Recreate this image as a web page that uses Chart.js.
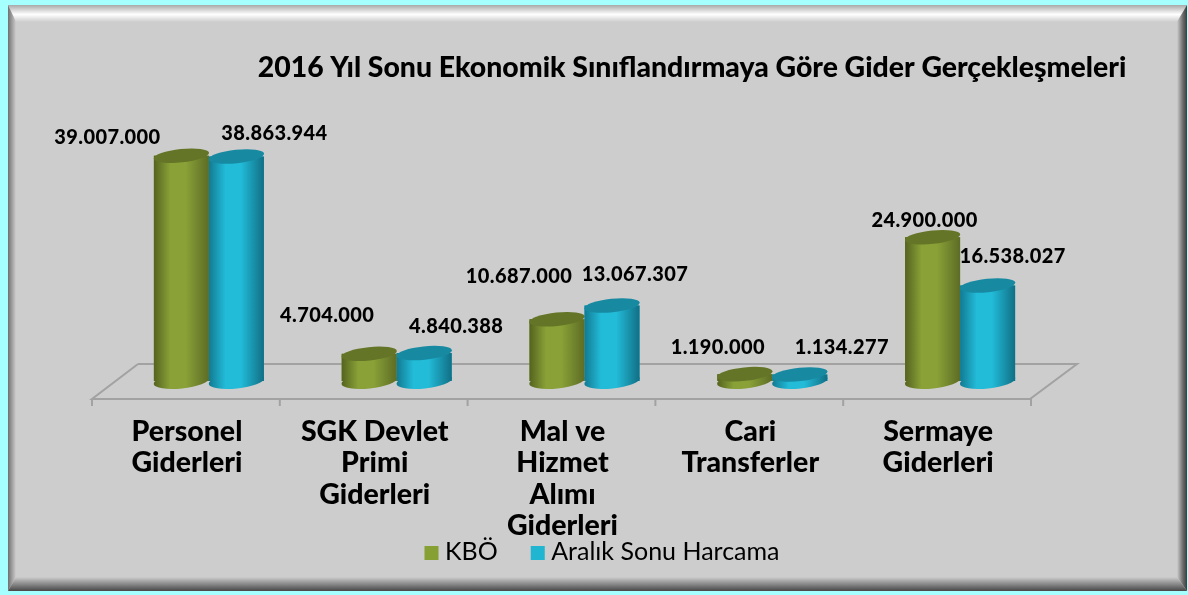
<!DOCTYPE html>
<html><head><meta charset="utf-8">
<style>html,body{margin:0;padding:0;background:#a6ffff}#w{width:1188px;height:595px}canvas{display:block}</style>
<script src="https://cdn.jsdelivr.net/npm/chart.js@4"></script>
</head><body><div id="w"><canvas id="c" width="1188" height="595"></canvas></div>
<script>
const categories = [['Personel','Giderleri'],['SGK Devlet','Primi','Giderleri'],['Mal ve','Hizmet','Alımı','Giderleri'],['Cari','Transferler'],['Sermaye','Giderleri']];
const kbo = [39007000, 4704000, 10687000, 1190000, 24900000];
const harcama = [38863944, 4840388, 13067307, 1134277, 16538027];
const seriesNames = ['KBÖ', 'Aralık Sonu Harcama'];
const titleText = '2016 Yıl Sonu Ekonomik Sınıflandırmaya Göre Gider Gerçekleşmeleri';
const labelDx = [[-74,-42,-38,-27,-8],[38,32,23,42,25]];
const labelDy = [[-18,-38,-43,-27,-17],[-23,-26,-31,-27,-29]];
const FONT = 'Lato';
const fmt = v => String(v).replace(/\B(?=(\d{3})+$)/g,'.');
const palette = [
 {edgeL:'#55631f',mid:'#89a137',edgeR:'#5d6c25',top:'#647527',key:'#86a034'},
 {edgeL:'#127a92',mid:'#22bbd8',edgeR:'#116f85',top:'#178aa2',key:'#20b5d0'}
];
const LEGEND_GAP = 33;
function barGradient(ctx,x0,x1,p){
  const g=ctx.createLinearGradient(x0,0,x1,0);
  g.addColorStop(0,p.edgeL);g.addColorStop(.3,p.mid);g.addColorStop(.58,p.mid);g.addColorStop(1,p.edgeR);
  return g;
}
const frame = {id:'frame',beforeDraw(chart){
  const c=chart.ctx,W=1188,H=595,L=8,T=5,R=1187,B=591,b=[8,17,10,14];
  c.save();
  c.fillStyle='#a6ffff';c.fillRect(0,0,W,H);
  c.fillStyle='#cdcdcd';c.fillRect(L,T,R-L,B-T);
  const trap=(pts,g)=>{c.beginPath();pts.forEach((p,i)=>i?c.lineTo(p[0],p[1]):c.moveTo(p[0],p[1]));c.closePath();c.fillStyle=g;c.fill();};
  let g=c.createLinearGradient(0,T,0,T+b[1]);
  g.addColorStop(0,'#a8a8a8');g.addColorStop(.55,'#ffffff');g.addColorStop(1,'#cdcdcd');
  trap([[L,T],[R,T],[R-b[2],T+b[1]],[L+b[0],T+b[1]]],g);
  g=c.createLinearGradient(L,0,L+b[0],0);
  g.addColorStop(0,'#707070');g.addColorStop(1,'#cdcdcd');
  trap([[L,T],[L+b[0],T+b[1]],[L+b[0],B-b[3]],[L,B]],g);
  g=c.createLinearGradient(R,0,R-b[2],0);
  g.addColorStop(0,'#3c3c3c');g.addColorStop(.4,'#6a6a6a');g.addColorStop(1,'#cdcdcd');
  trap([[R,T],[R-b[2],T+b[1]],[R-b[2],B-b[3]],[R,B]],g);
  g=c.createLinearGradient(0,B,0,B-b[3]);
  g.addColorStop(0,'#484848');g.addColorStop(.3,'#707070');g.addColorStop(1,'#cdcdcd');
  trap([[L,B],[L+b[0],B-b[3]],[R-b[2],B-b[3]],[R,B]],g);
  c.restore();
}};
const floor = {id:'floor',afterLayout(chart){
  const t=chart.titleBlock,l=chart.legend;
  const dt=692-(t.left+t.right)/2; t.left+=dt;t.right+=dt;
  const dl=602-(l.left+l.right)/2; l.left+=dl;l.right+=dl;
  const dy=-35; l.top+=dy;l.bottom+=dy;
  l.legendHitBoxes.forEach(h=>{h.left+=dl;h.top+=dy;});
},beforeDatasetsDraw(chart){
  const c=chart.ctx,x=chart.scales.x,y=chart.scales.y,base=y.getPixelForValue(0);
  const a=chart.chartArea,fy=base+18,by=base-17;
  c.save();c.strokeStyle='#a2a2a2';c.lineWidth=2;
  c.beginPath();c.moveTo(a.left+23,by);c.lineTo(a.right+23,by);c.lineTo(a.right-24,fy);c.lineTo(a.left-23,fy);c.lineTo(a.left+23,by);c.stroke();
  const step=(a.right-a.left)/categories.length;
  c.beginPath();
  for(let i=0;i<=categories.length;i++){const px=a.left-23+step*i;c.moveTo(px,fy);c.lineTo(px,fy+7);}
  c.stroke();c.restore();
},afterDatasetsDraw(chart){
  const c=chart.ctx;
  chart.data.datasets.forEach((d,s)=>{
    const p=palette[s];
    chart.getDatasetMeta(s).data.forEach(bar=>{
      const hw=bar.width/2,tilt=-6*Math.PI/180,g=barGradient(c,bar.x-hw,bar.x+hw,p);
      c.save();
      c.fillStyle=g;c.beginPath();c.ellipse(bar.x,bar.base,hw+.3,7.5,tilt,0,Math.PI*2);c.fill();
      c.fillRect(bar.x-hw,bar.y,bar.width,bar.base-bar.y);
      c.fillStyle=p.top;c.beginPath();c.ellipse(bar.x,bar.y,hw+.3,6.7,tilt,0,Math.PI*2);c.fill();
      c.restore();
    });
  });
},afterDraw(chart){
  const c=chart.ctx;
  c.save();c.fillStyle='#000';c.font='900 20px '+FONT;c.textAlign='center';c.textBaseline='middle';
  if('letterSpacing' in c)c.letterSpacing='0.4px';
  chart.data.datasets.forEach((d,s)=>{
    chart.getDatasetMeta(s).data.forEach((bar,i)=>{
      c.fillText(fmt(d.data[i]),bar.x+labelDx[s][i],bar.y+labelDy[s][i]);
    });
  });
  c.restore();
  c.save();
  chart.legend.legendHitBoxes.forEach((h,i)=>{c.fillStyle=palette[i].key;c.fillRect(h.left,h.top+LEGEND_GAP+9,14,14);});
  c.restore();
}};
new Chart(document.getElementById('c'),{
  type:'bar',
  data:{labels:categories,datasets:[
    {label:seriesNames[0],data:kbo,backgroundColor:palette[0].key,borderWidth:0},
    {label:seriesNames[1],data:harcama,backgroundColor:palette[1].key,borderWidth:0}
  ]},
  plugins:[frame,floor],
  options:{
    responsive:false,animation:false,events:[],
    layout:{padding:{left:115,right:134,top:0,bottom:-14}},
    datasets:{bar:{barPercentage:1,categoryPercentage:0.586}},
    scales:{
      x:{grid:{display:false},border:{display:false},
        afterFit(s){s.height=160;},
        ticks:{color:'#000',font:{family:FONT,weight:'900',size:28.5,lineHeight:1.105},padding:27,labelOffset:-22,maxRotation:0,minRotation:0,autoSkip:false}},
      y:{display:false,min:0,max:45000000}
    },
    plugins:{
      tooltip:{enabled:false},
      title:{display:true,text:titleText,color:'#000',font:{family:FONT,weight:'900',size:28.4},padding:{top:51,bottom:36}},
      legend:{position:'bottom',labels:{generateLabels(){return seriesNames.map((n,i)=>({text:n,fillStyle:'rgba(0,0,0,0)',strokeStyle:'rgba(0,0,0,0)',lineWidth:0,datasetIndex:i}));},
        color:'#000',font:{family:FONT,size:25},boxWidth:8,boxHeight:14,padding:LEGEND_GAP}}
    }
  }
});
</script></body></html>
